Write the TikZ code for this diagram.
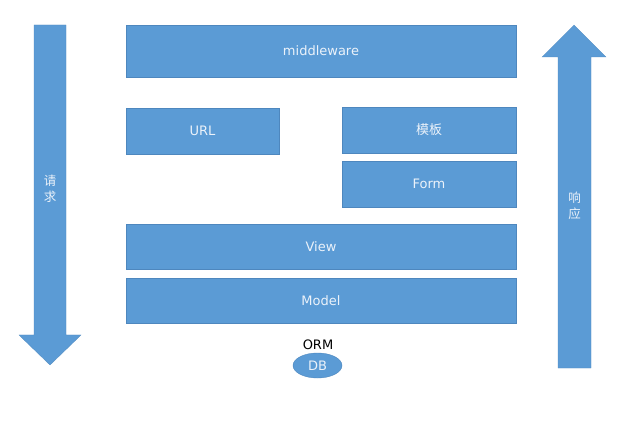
\documentclass[tikz,border=0pt]{standalone}
\usepackage{xcolor}
\usepackage{fontspec}
\usepackage{tikz}
\usetikzlibrary{shapes}
\setmainfont{DejaVu Sans}
\newfontfamily\cjk{Noto Sans CJK SC}
\definecolor{layerblue}{RGB}{91, 155, 213}
\definecolor{layeredge}{RGB}{78, 135, 190}
\definecolor{labelwhite}{RGB}{235, 242, 250}

\begin{document}
\begin{tikzpicture}[x=1pt, y=-1pt,
    layer/.style={rectangle, fill=layerblue, draw=layeredge, line width=0.4pt,
        inner sep=0pt, text=labelwhite, font=\fontsize{13}{15}\selectfont},
    flow/.style={fill=layerblue, draw=layerblue!90!black, line width=0.3pt},
    flowtext/.style={text=labelwhite, align=center, inner sep=0pt,
        font=\cjk\fontsize{12.5}{15.5}\selectfont}]
        \useasboundingbox (0,0) rectangle (627,422);

        % 请求 (向下)
        \draw[flow] (34,25) -- (66,25) -- (66,335) -- (81,335) -- (50,365)
            -- (19,335) -- (34,335) -- cycle;
        \node[flowtext] (req) at (50,189) {请\\求};

        % 响应 (向上)
        \draw[flow] (558,368) -- (591,368) -- (591,57) -- (606,57) -- (574,25)
            -- (542,57) -- (558,57) -- cycle;
        \node[flowtext] (resp) at (574.5,206) {响\\应};

        % 各层
        \node[layer, minimum width=390, minimum height=52] (mw) at (321,51) {middleware};
        \node[layer, minimum width=153, minimum height=46] (url) at (202.5,131) {URL};
        \node[layer, minimum width=174, minimum height=46] (tpl) at (429,130) {\cjk 模板};
        \node[layer, minimum width=174, minimum height=46] (form) at (429,184) {Form};
        \node[layer, minimum width=390, minimum height=45] (view) at (321,246.5) {View};
        \node[layer, minimum width=390, minimum height=45] (model) at (321,300.5) {Model};

        % 数据库
        \node[font=\fontsize{13}{15}\selectfont, inner sep=0pt] (orm) at (318,345) {ORM};
        \node[layer, ellipse, minimum width=49, minimum height=25] (db)
            at (317.5,365.5) {DB};
    \end{tikzpicture}
\end{document}
